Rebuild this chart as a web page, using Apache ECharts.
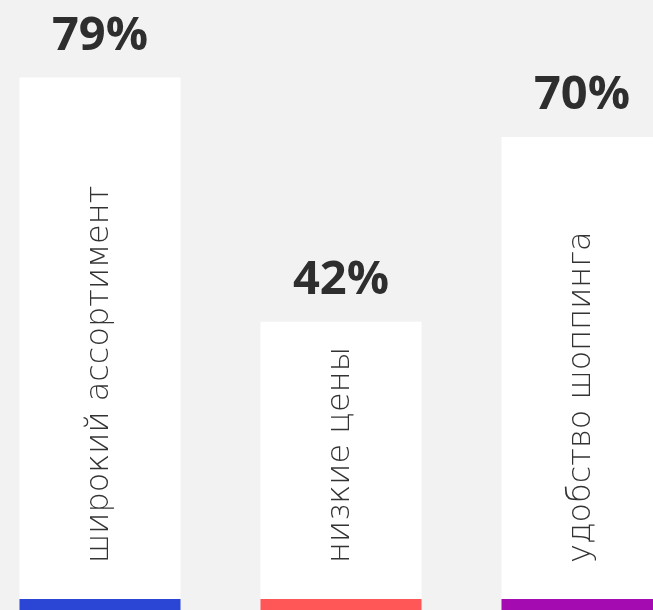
<!DOCTYPE html>
<html>
<head>
<meta charset="utf-8">
<script src="https://cdn.jsdelivr.net/npm/echarts@6/dist/echarts.min.js"></script>
<style>
html,body{margin:0;padding:0;background:#f2f2f2;}
#chart{width:653px;height:610px;}
</style>
</head>
<body>
<div id="chart"></div>
<script>
const categories = ['широкий ассортимент', 'низкие цены', 'удобство шоппинга'];
const values = [79, 42, 70];
const stripColors = ['#2b46d4', '#ff5757', '#a40cb2'];

const STRIP = 1.667;
const chart = echarts.init(document.getElementById('chart'), null, {renderer: 'canvas'});
chart.setOption({
  backgroundColor: '#f2f2f2',
  animation: false,
  grid: {left: -20.5, width: 723, top: 0, bottom: 0, outerBoundsMode: 'none', containLabel: false},
  xAxis: {type: 'category', data: categories, show: false},
  yAxis: {type: 'value', min: -STRIP, max: 90.76, show: false},
  series: [
    {
      type: 'bar',
      data: values,
      barWidth: 161,
      itemStyle: {color: '#ffffff'},
      label: {
        show: true,
        position: 'top',
        distance: 18,
        formatter: p => p.value + '%',
        fontFamily: 'Open Sans',
        fontWeight: 'bold',
        fontSize: 47,
        color: '#2e2e2e'
      }
    },
    {
      type: 'bar',
      data: values.map((v, i) => ({value: -STRIP, itemStyle: {color: stripColors[i]}})),
      barWidth: 161,
      barGap: '-100%',
      label: {show: false}
    },
    {
      type: 'bar',
      data: values,
      barWidth: 161,
      barGap: '-100%',
      itemStyle: {color: 'rgba(0,0,0,0)'},
      label: {
        show: true,
        position: 'insideBottom',
        rotate: 90,
        align: 'left',
        verticalAlign: 'middle',
        distance: 36,
        formatter: p => categories[p.dataIndex],
        fontFamily: 'DejaVu Sans',
        fontWeight: 300,
        fontSize: 32,
        color: '#333333'
      }
    }
  ]
});
</script>
</body>
</html>
